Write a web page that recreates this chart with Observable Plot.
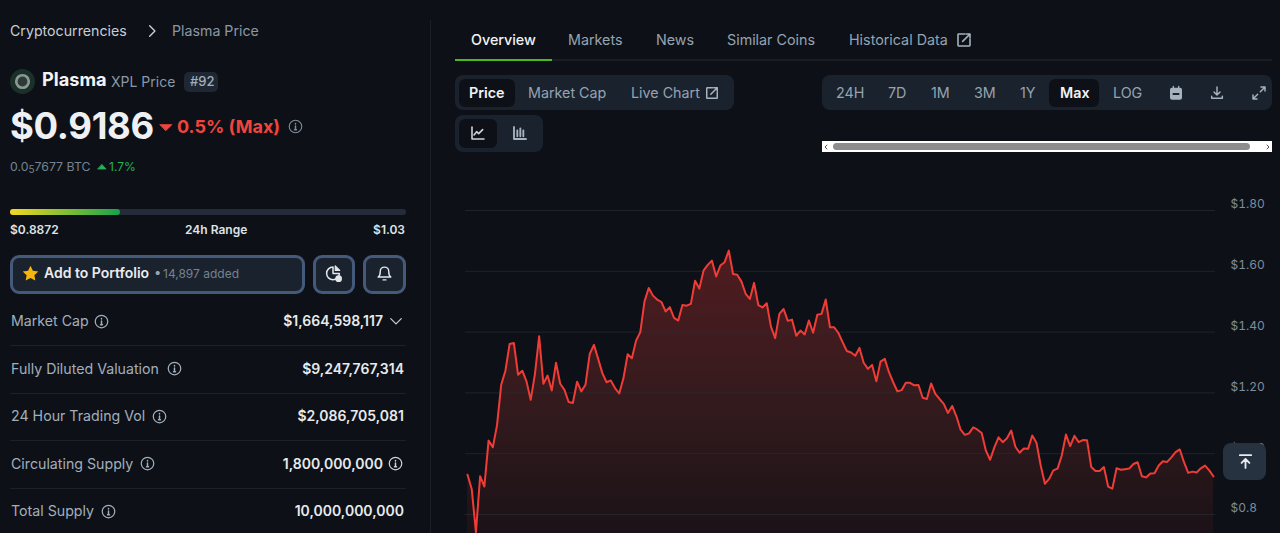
<!DOCTYPE html>
<html>
<head>
<meta charset="utf-8">
<script src="https://cdn.jsdelivr.net/npm/d3@7"></script>
<script src="https://cdn.jsdelivr.net/npm/@observablehq/plot@0.6"></script>
<style>
html,body{margin:0;padding:0;width:1280px;height:533px;overflow:hidden;background:#0d1117;font-family:Inter,"Noto Sans",sans-serif;}
#page{position:relative;width:1280px;height:533px;overflow:hidden;}
.t{position:absolute;white-space:nowrap;transform:translateY(-50%);line-height:1.2;}
.b{position:absolute;box-sizing:border-box;}
.i{position:absolute;overflow:visible;}
#chart{position:absolute;left:440px;top:190px;}
#chart svg{display:block;background:transparent;}
</style>
</head>
<body>
<div id="page"></div>
<script>
// Plasma (XPL) price, one value per step
const prices = [
0.931,0.884,0.742,0.926,0.892,1.043,1.021,1.093,1.227,1.273,1.361,1.364,1.260,1.273,1.238,1.177,1.262,1.386,1.230,1.257,
1.208,1.299,1.230,1.210,1.170,1.167,1.237,1.205,1.227,1.328,1.358,1.312,1.265,1.235,1.241,1.216,1.198,1.248,1.327,1.314,
1.372,1.400,1.501,1.545,1.520,1.507,1.499,1.468,1.482,1.447,1.438,1.489,1.487,1.493,1.569,1.543,1.602,1.621,1.635,1.583,
1.619,1.630,1.668,1.591,1.589,1.566,1.526,1.509,1.562,1.489,1.481,1.495,1.418,1.380,1.460,1.476,1.437,1.441,1.388,1.405,
1.392,1.438,1.398,1.457,1.460,1.507,1.416,1.416,1.397,1.367,1.338,1.333,1.322,1.348,1.299,1.279,1.292,1.238,1.303,1.312,
1.268,1.235,1.205,1.209,1.233,1.233,1.225,1.226,1.184,1.180,1.231,1.197,1.180,1.164,1.134,1.157,1.123,1.079,1.062,1.067,
1.087,1.079,1.068,1.010,0.980,1.021,1.054,1.038,1.051,1.076,1.023,1.003,1.017,1.016,1.060,1.036,0.961,0.901,0.917,0.945,
0.951,0.994,1.063,1.025,1.059,1.038,1.045,1.044,0.956,0.943,0.943,0.956,0.892,0.885,0.952,0.947,0.949,0.951,0.966,0.972,
0.926,0.922,0.935,0.936,0.961,0.975,0.973,0.988,1.005,1.014,0.972,0.937,0.941,0.938,0.952,0.961,0.945,0.925
];
const tickValues = [0.8,1.0,1.2,1.4,1.6,1.8];
const tickLabels = ["$0.8","$1.00","$1.20","$1.40","$1.60","$1.80"];
const steps = prices.map((_, i) => i);

const tabs = [["Overview",471],["Markets",568],["News",656],["Similar Coins",727],["Historical Data",849]];
const rangeButtons = [["24H",836],["7D",888],["1M",931],["3M",974],["1Y",1020],["Max",1060],["LOG",1113]];
const statLabels = ["Market Cap","Fully Diluted Valuation","24 Hour Trading Vol","Circulating Supply","Total Supply"];
const statValues = ["$1,664,598,117","$9,247,767,314","$2,086,705,081","1,800,000,000","10,000,000,000"];

const page = document.getElementById("page");
function t(x, y, text, css) {
  const e = document.createElement("div"); e.className = "t"; e.innerHTML = text;
  e.style.cssText = (css.right ? `right:${1280 - x}px;` : `left:${x}px;`) + `top:${y}px;font-size:${css.s}px;color:${css.c};font-weight:${css.w || 400};` + (css.x || "");
  page.appendChild(e); return e;
}
function box(x, y, w, h, css) {
  const e = document.createElement("div"); e.className = "b";
  e.style.cssText = `left:${x}px;top:${y}px;width:${w}px;height:${h}px;` + css;
  page.appendChild(e); return e;
}
function ico(cx, cy, size, inner, stroke = "#9fadbc", sw = 1.6) {
  const e = document.createElementNS("http://www.w3.org/2000/svg", "svg");
  e.setAttribute("class", "i"); e.setAttribute("width", size); e.setAttribute("height", size);
  e.setAttribute("viewBox", "0 0 24 24");
  e.style.left = (cx - size / 2) + "px"; e.style.top = (cy - size / 2) + "px";
  e.setAttribute("fill", "none"); e.setAttribute("stroke", stroke); e.setAttribute("stroke-width", sw);
  e.setAttribute("stroke-linecap", "round"); e.setAttribute("stroke-linejoin", "round");
  e.innerHTML = inner; page.appendChild(e); return e;
}
const infoI = `<circle cx="12" cy="12" r="10"/><path d="M12 11v6M10.500 17h3M12 7.200v.6" stroke-width="2.400"/>`;
const extI = `<path d="M13 3H4a1 1 0 0 0-1 1v16a1 1 0 0 0 1 1h16a1 1 0 0 0 1-1v-9"/><path d="M10 14 21 3M15 3h6v6"/>`;

// --- chart ---
const W = 840, H = 343;
const chart = Plot.plot({
  width: W, height: H,
  marginLeft: 27, marginRight: 67, marginTop: 20, marginBottom: 0,
  style: {background: "transparent", fontFamily: "Inter", overflow: "hidden"},
  x: {domain: [0, prices.length - 1], axis: null},
  y: {domain: [0.7375, 1.8]},
  marks: [
    () => {
      const s = d3.create("svg:defs");
      const g = s.append("linearGradient").attr("id", "fade").attr("x1", 0).attr("x2", 0).attr("y1", 0).attr("y2", 1);
      g.append("stop").attr("offset", "0%").attr("stop-color", "#501c20");
      g.append("stop").attr("offset", "55%").attr("stop-color", "#331a1d");
      g.append("stop").attr("offset", "100%").attr("stop-color", "#1b1217");
      return s.node();
    },
    Plot.areaY(steps, {x: d => d, y1: 0.7375, y2: d => prices[d], fill: "url(#fade)", curve: "linear"}),
    Plot.ruleY(tickValues, {x1: -0.5, x2: prices.length - 0.5, stroke: "#2a2f39", strokeOpacity: 0.6, strokeWidth: 1}),
    Plot.lineY(steps, {x: d => d, y: d => prices[d], stroke: "#f03c36", strokeWidth: 2, curve: "linear"}),
    Plot.axisY(tickValues, {
      anchor: "right", tickSize: 0, tickPadding: 17, label: null, dy: -6,
      tickFormat: d => tickLabels[tickValues.indexOf(d)],
      fill: "#7f8c9b", fontSize: 12, textAnchor: "start"
    })
  ]
});
const holder = document.createElement("div"); holder.id = "chart"; holder.appendChild(chart); page.appendChild(holder);

// --- divider ---
box(430, 20, 1, 513, "background:#1a1f28;");

// --- left panel ---
t(10, 31, "Cryptocurrencies", {s:14.2, c:"#c6cdd6"});
ico(152, 31, 14, `<path d="M8 3l9 9-9 9"/>`, "#c6cdd6", 2.4);
t(172, 31, "Plasma Price", {s:14.2, c:"#8a97a6"});
ico(22, 81, 25, `<circle cx="12" cy="12" r="12" fill="#1b3029" stroke="none"/><circle cx="12" cy="12" r="6" fill="#2d3a37" stroke="#8a9a93" stroke-width="2.600"/>`);
t(42, 80, "Plasma", {s:18.2, c:"#f1f3f5", w:700});
t(111, 81.5, "XPL Price", {s:14, c:"#8a97a6"});
box(184, 72, 34, 20, "background:#1e2733;border-radius:5px;");
t(190, 82, "#92", {s:13, c:"#a3aebb", w:500});
t(10, 127, "$0.9186", {s:36.5, c:"#eef0f3", w:700, x:"letter-spacing:-.3px;"});
ico(165.500, 127, 14, `<path d="M2 8h20l-10 10z" fill="#f0443c" stroke="#f0443c"/>`);
t(177, 127, "0.5% (Max)", {s:18, c:"#f0443c", w:700});
ico(295, 126, 15, infoI, "#7f8c9b", 1.8);
t(10, 167, `0.0<span style="font-size:10px;position:relative;top:2px">5</span>7677 BTC`, {s:12.3, c:"#75838f"});
ico(102, 167, 10, `<path d="M2 17h20L12 6z" fill="#22b455" stroke="#22b455"/>`);
t(109, 167, "1.7%", {s:12, c:"#22b455"});
box(10, 209, 396, 6, "background:#232c38;border-radius:3px;");
box(10, 209, 110, 6, "background:linear-gradient(90deg,#f5d81f,#16a34a);border-radius:3px;");
t(10, 230, "$0.8872", {s:12, c:"#dfe3e7", w:600});
t(185, 230, "24h Range", {s:12, c:"#dfe3e7", w:600});
t(405, 230, "$1.03", {s:12, c:"#dfe3e7", w:600, right:true});

const btn = "background:#1a222e;border:3px solid #45597a;border-radius:9px;";
box(10, 255, 295, 39, btn); box(313, 255, 42, 39, btn); box(363, 255, 43, 39, btn);
ico(30.5, 273, 17, `<path d="M12 1l3.400 7 7.600 1-5.500 5.400 1.300 7.600L12 18.400 5.200 22l1.300-7.600L1 9l7.600-1z" fill="#f5b50f" stroke="none"/>`);
t(44, 273, "Add to Portfolio", {s:14, c:"#e9ecef", w:600});
t(154, 273, "•", {s:13, c:"#9aa5b1"});
t(163, 273.500, "14,897 added", {s:12, c:"#75838f"});
ico(333, 273, 18, `<path d="M12 4a8.500 8.500 0 1 0 8.500 8.500H12z" stroke="#e3e7eb" stroke-width="2"/><path d="M15 2.500l6 6h-6z" fill="#e3e7eb" stroke="#e3e7eb"/><circle cx="19.500" cy="19.500" r="4.500" fill="#e3e7eb" stroke="none"/>`);
ico(384, 273, 17, `<path d="M12 3a6 6 0 0 0-6 6c0 6-3 8-3 8h18s-3-2-3-8a6 6 0 0 0-6-6z"/><path d="M10 21h4"/>`, "#e3e7eb", 2);

const rowY = [321, 368.5, 416, 463.5, 511];
const labelIcon = [101, 174, 159, 147, 108];
const valueRight = [383, 404, 404, 383, 404];
statLabels.forEach((s, i) => {
  t(11, rowY[i], s, {s:14.2, c:"#a2aebc"});
  ico(labelIcon[i], rowY[i], 15, infoI, "#a2aebc", 2);
  t(valueRight[i], rowY[i], statValues[i], {s:14, c:"#e7eaed", w:600, right:true});
  if (i < 4) box(10, rowY[i] + 24, 396, 1, "background:#1b212b;");
});
ico(395.500, 321, 14, `<path d="M3 8l9 9 9-9"/>`, "#c6cdd6", 2.2);
ico(395.500, 463.500, 15, infoI, "#cdd3da", 2);

// --- tabs ---
box(455, 59, 817, 2, "background:#171c25;");
box(455, 58.500, 97, 2.500, "background:#4cb81b;");
tabs.forEach(([s, x], i) => t(x, 39.500, s, {s:14.300, c: i === 0 ? "#f1f3f5" : "#96a3b2", w: i === 0 ? 500 : 400}));
ico(964, 39.500, 16, extI, "#a7b2be", 2.400);

// --- control groups ---
box(455, 75, 279, 35, "background:#1a222d;border-radius:8px;");
box(459, 79, 56, 28, "background:#0d1117;border-radius:6px;");
t(469, 92.500, "Price", {s:14.300, c:"#f1f3f5", w:600});
t(528, 92.500, "Market Cap", {s:14.300, c:"#96a3b2"});
t(631, 92.500, "Live Chart", {s:14.300, c:"#96a3b2"});
ico(712, 92.500, 14, extI, "#a7b2be", 2.600);

box(455, 115, 88, 37, "background:#1a222d;border-radius:8px;");
box(459, 119, 38, 29, "background:#0d1117;border-radius:6px;");
ico(478, 133, 16, `<path d="M3 3v18h18"/><path d="M6 15l4-5 3 3 6-6"/>`, "#cdd3da", 2.400);
ico(519.500, 133, 16, `<path d="M3 3v18h18M8 8v9M12.500 5v12M17 8v9" />`, "#a7b2be", 2.800);

box(822, 75, 450, 35, "background:#1a222d;border-radius:8px;");
box(1049, 79, 50, 28, "background:#0d1117;border-radius:6px;");
rangeButtons.forEach(([s, x]) => t(x, 92.500, s, {s:14.300, c: s === "Max" ? "#f1f3f5" : "#96a3b2", w: s === "Max" ? 600 : 400}));
ico(1175.500, 92.500, 16, `<rect x="4" y="5" width="16" height="16" rx="2" fill="#a7b2be"/><path d="M8 2v3M16 2v3"/><rect x="7" y="12" width="10" height="3" fill="#1a222d" stroke="none"/>`, "#a7b2be", 2);
ico(1217, 92.500, 16, `<path d="M12 3v12M7.500 10.500 12 15l4.500-4.500M4 17v3h16v-3"/>`, "#a7b2be", 2.200);
ico(1259, 92.500, 16, `<path d="M14 10l7-7M15 3h6v6M10 14l-7 7M3 15v6h6"/>`, "#a7b2be", 2.200);

// --- scrollbar strip ---
box(822, 141, 450, 11, "background:#fff;");
box(833, 143, 417, 7, "background:#8d8d8d;border-radius:4px;");
ico(826, 146.500, 6, `<path d="M16 4 8 12l8 8" />`, "#555", 4);
ico(1268, 146.500, 6, `<path d="M8 4l8 8-8 8" />`, "#555", 4);

// --- back-to-top button ---
box(1223, 443, 43, 37, "background:#263240;border-radius:8px;");
ico(1245, 461, 17, `<path d="M4 3h16M12 21V9M6.500 14 12 8.500l5.500 5.500"/>`, "#e8ebee", 2.600);
</script>
</body>
</html>
